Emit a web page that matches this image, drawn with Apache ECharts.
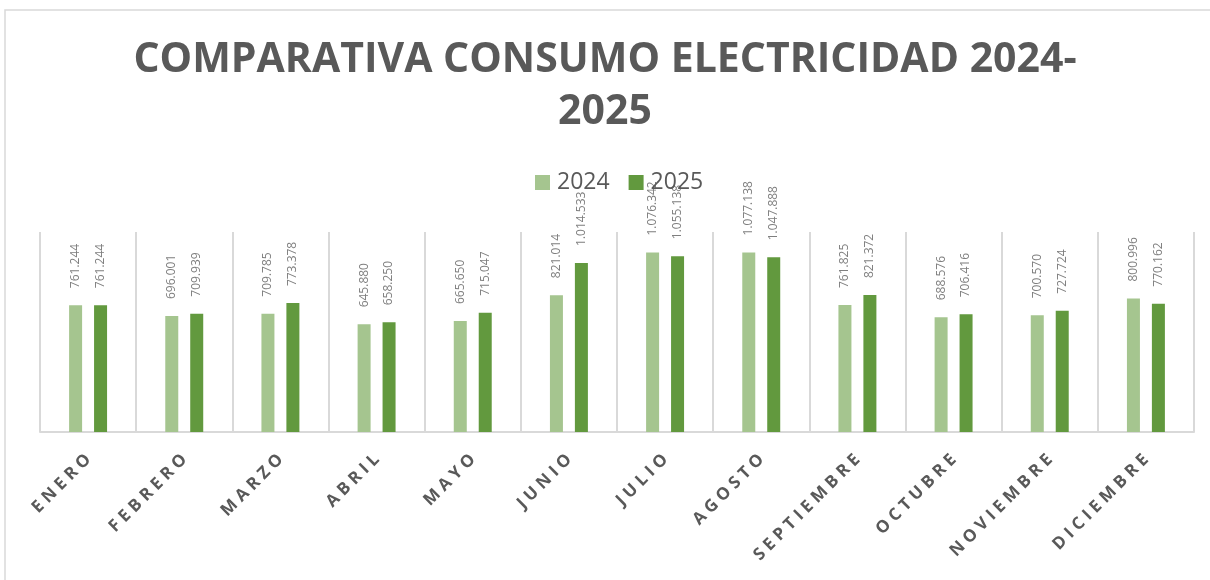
<!DOCTYPE html>
<html>
<head>
<meta charset="utf-8">
<script src="https://cdn.jsdelivr.net/npm/echarts@6/dist/echarts.min.js"></script>
<style>
  html, body { margin: 0; padding: 0; background: #fff; }
  #chart { width: 1210px; height: 580px; }
</style>
</head>
<body>
<div id="chart"></div>
<script>
// datos
const meses = ["ENERO", "FEBRERO", "MARZO", "ABRIL", "MAYO", "JUNIO", "JULIO",
  "AGOSTO", "SEPTIEMBRE", "OCTUBRE", "NOVIEMBRE", "DICIEMBRE"];
const consumo2024 = [761244, 696001, 709785, 645880, 665650, 821014, 1076342,
  1077138, 761825, 688576, 700570, 800996];
const consumo2025 = [761244, 709939, 773378, 658250, 715047, 1014533, 1055138,
  1047888, 821372, 706416, 727724, 770162];

// 761244 -> 761.244
function fmt(v) {
  return String(v).replace(/\B(?=(\d{3})+(?!\d))/g, ".");
}

const labelStyle = {
  show: true,
  position: "top",
  rotate: 90,
  align: "left",
  verticalAlign: "middle",
  distance: 17,
  color: "#7F7F7F",
  fontFamily: "Open Sans",
  fontSize: 12,
  formatter: p => fmt(p.value),
};

const chart = echarts.init(document.getElementById("chart"));
chart.setOption({
  animation: false,
  title: {
    text: "COMPARATIVA CONSUMO ELECTRICIDAD 2024-\n2025",
    left: "center",
    top: 34,
    padding: [0, 0, 0, 16],
    textStyle: {
      color: "#595959",
      fontFamily: "Open Sans",
      fontWeight: "bold",
      fontSize: 41,
      lineHeight: 52,
    },
  },
  legend: {
    left: 535,
    top: 171,
    padding: 0,
    itemWidth: 15,
    itemHeight: 15,
    itemGap: 19,
    icon: "rect",
    textStyle: {
      color: "#595959",
      fontFamily: "Open Sans",
      fontSize: 23,
      lineHeight: 15,
      padding: [0, 0, 0, 2],
    },
  },
  graphic: [{
    type: "rect",
    shape: { x: 5, y: 10, width: 1210, height: 580 },
    style: { fill: "none", stroke: "#D9D9D9", lineWidth: 1.5 },
    silent: true,
  }],
  grid: {
    left: 40,
    right: 16,
    top: 232,
    bottom: 148,
    outerBoundsMode: "none",
  },
  xAxis: {
    type: "category",
    data: meses,
    axisLine: { lineStyle: { color: "#D9D9D9", width: 2 } },
    axisTick: { show: false },
    splitLine: { show: true, lineStyle: { color: "#D9D9D9", width: 2 } },
    axisLabel: {
      interval: 0,
      rotate: 45,
      margin: 25,
      color: "#595959",
      fontFamily: "Open Sans",
      fontWeight: "bold",
      fontSize: 17,
      formatter: v => v.split("").join(" "),
    },
  },
  yAxis: {
    type: "value",
    min: 0,
    max: 1200000,
    show: false,
    splitLine: { show: false },
  },
  series: [
    {
      name: "2024",
      type: "bar",
      data: consumo2024,
      barWidth: 13,
      barGap: "92%",
      itemStyle: { color: "#A5C58F" },
      label: labelStyle,
    },
    {
      name: "2025",
      type: "bar",
      data: consumo2025,
      barWidth: 13,
      itemStyle: { color: "#62993E" },
      label: labelStyle,
    },
  ],
});
</script>
</body>
</html>
